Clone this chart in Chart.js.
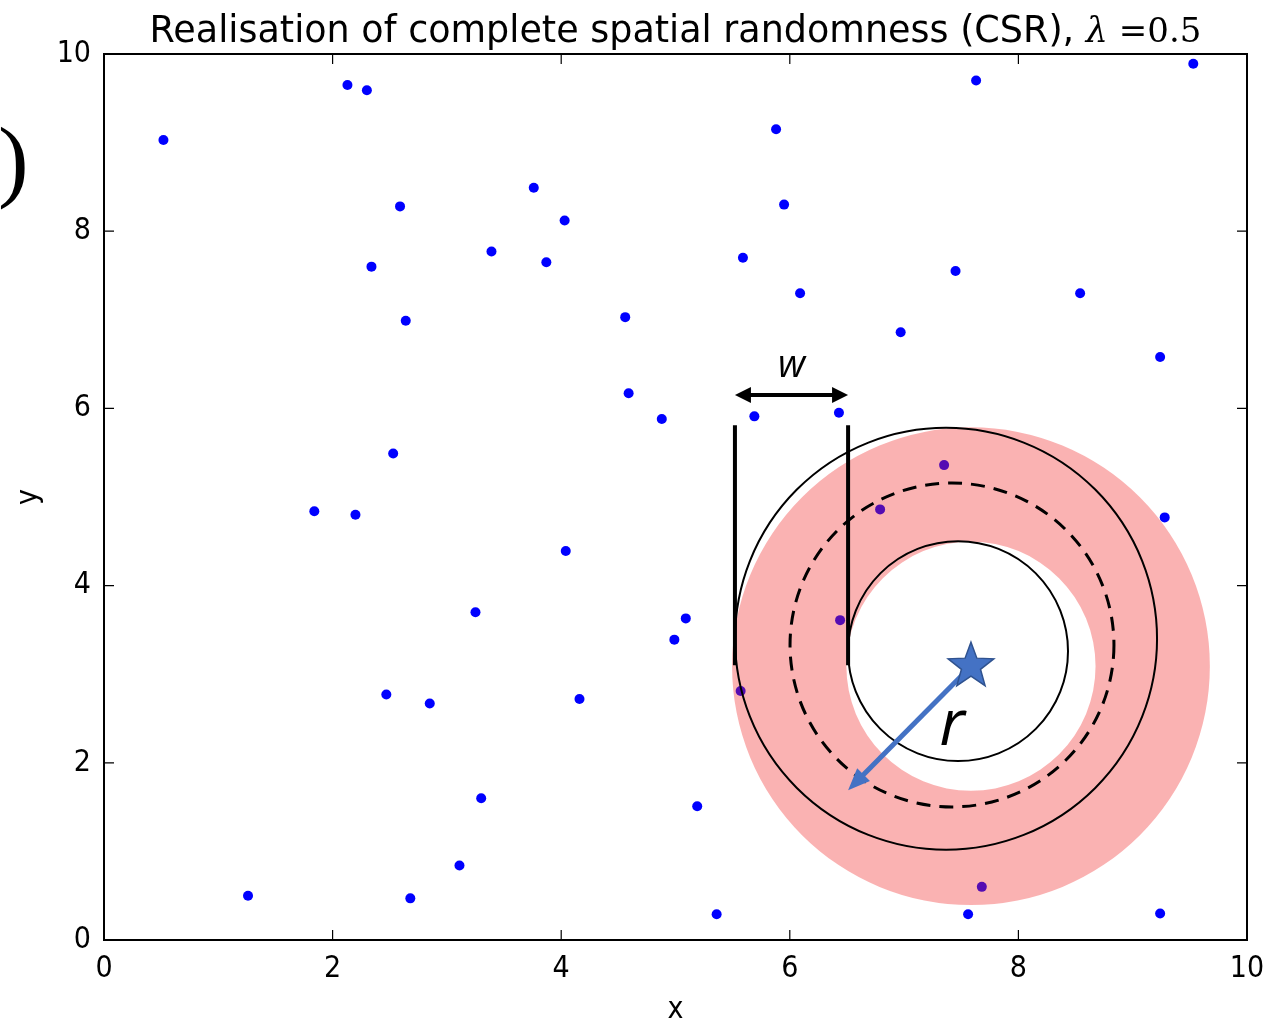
<!DOCTYPE html>
<html>
<head>
<meta charset="utf-8">
<script src="https://cdn.jsdelivr.net/npm/chart.js@4.4.1/dist/chart.umd.min.js"></script>
<style>
  html, body { margin: 0; padding: 0; background: #fff; }
  #wrap { width: 1268px; height: 1022px; }
</style>
</head>
<body>
<div id="wrap"><canvas id="csrChart" width="1268" height="1022"></canvas></div>
<script>
// points of the CSR realisation
const xs = [0.52, 2.13, 2.30, 2.59, 2.34, 2.64, 3.76, 4.03, 3.39, 3.87, 4.56, 4.59, 4.88,
            2.53, 1.84, 2.20, 4.04, 3.25, 5.09, 4.99, 2.47, 2.85, 4.16, 3.30, 5.19, 3.11,
            1.26, 2.68, 5.36, 5.88, 5.95, 5.59, 6.09, 5.69, 6.43, 7.63, 9.53, 7.45, 8.54,
            6.97, 9.24, 7.35, 6.79, 9.28, 6.44, 5.57, 7.68, 7.56, 9.24];
const ys = [9.03, 9.65, 9.59, 8.28, 7.60, 6.99, 8.49, 8.12, 7.77, 7.65, 7.03, 6.17, 5.88,
            5.49, 4.84, 4.80, 4.39, 3.70, 3.63, 3.39, 2.77, 2.67, 2.72, 1.60, 1.51, 0.84,
            0.50, 0.47, 0.29, 9.15, 8.30, 7.70, 7.30, 5.91, 5.95, 9.70, 9.89, 7.55, 7.30,
            6.86, 6.58, 5.36, 4.86, 4.77, 3.61, 2.81, 0.60, 0.29, 0.30];
const xTicks = [0, 2, 4, 6, 8, 10];
const yTicks = [0, 2, 4, 6, 8, 10];

// sketch drawn over the plot, in data units (radii in x units, circles stay round)
const star = { x: 7.585, y: 3.09 };
const ring = { x: 7.585, y: 3.09, outer: 2.09, inner: 1.09 };
const rings = [
  { x: 7.367, y: 3.40, r: 1.846, dash: false },
  { x: 7.419, y: 3.33, r: 1.417, dash: true },
  { x: 7.472, y: 3.26, r: 0.962, dash: false }
];
const bars = { x1: 5.52, x2: 6.51, yTop: 5.81, yBot: 3.10, yArrow: 6.15 };
const rEnd = { x: 6.51, y: 1.69 };

const SANS = "'DejaVu Sans Condensed', 'DejaVu Sans', sans-serif";

function arrowHead(ctx, x0, y0, x1, y1, len, half) {
  const a = Math.atan2(y1 - y0, x1 - x0);
  ctx.beginPath();
  ctx.moveTo(x1, y1);
  ctx.lineTo(x1 - len * Math.cos(a) + half * Math.sin(a), y1 - len * Math.sin(a) - half * Math.cos(a));
  ctx.lineTo(x1 - len * Math.cos(a) - half * Math.sin(a), y1 - len * Math.sin(a) + half * Math.cos(a));
  ctx.closePath();
  ctx.fill();
}

const sketch = {
  id: 'sketch',
  afterDatasetsDraw(chart) {
    const { ctx, scales: { x, y } } = chart;
    const px = v => x.getPixelForValue(v);
    const py = v => y.getPixelForValue(v);
    const pr = (cx, r) => px(cx + r) - px(cx);
    ctx.save();

    // pink band
    ctx.fillStyle = 'rgba(240, 35, 35, 0.35)';
    ctx.beginPath();
    ctx.arc(px(ring.x), py(ring.y), pr(ring.x, ring.outer), 0, Math.PI * 2);
    ctx.arc(px(ring.x), py(ring.y), pr(ring.x, ring.inner), 0, Math.PI * 2, true);
    ctx.fill('evenodd');

    // circles
    ctx.strokeStyle = '#000';
    rings.forEach(c => {
      ctx.lineWidth = c.dash ? 3 : 2;
      ctx.setLineDash(c.dash ? [14, 9] : []);
      ctx.beginPath();
      ctx.arc(px(c.x), py(c.y), pr(c.x, c.r), 0, Math.PI * 2);
      ctx.stroke();
    });
    ctx.setLineDash([]);

    // w bars + double arrow
    ctx.lineWidth = 4;
    [bars.x1, bars.x2].forEach(v => {
      ctx.beginPath();
      ctx.moveTo(px(v), py(bars.yTop));
      ctx.lineTo(px(v), py(bars.yBot));
      ctx.stroke();
    });
    const ay = py(bars.yArrow);
    ctx.beginPath();
    ctx.moveTo(px(bars.x1) + 10, ay);
    ctx.lineTo(px(bars.x2) - 10, ay);
    ctx.stroke();
    ctx.fillStyle = '#000';
    arrowHead(ctx, px(bars.x2), ay, px(bars.x1), ay, 16, 8);
    arrowHead(ctx, px(bars.x1), ay, px(bars.x2), ay, 16, 8);
    ctx.font = "italic 38px 'Open Sans', sans-serif";
    ctx.textAlign = 'center';
    ctx.textBaseline = 'alphabetic';
    ctx.fillText('w', (px(bars.x1) + px(bars.x2)) / 2, ay - 18);

    // r arrow
    const sx = px(star.x), sy = py(star.y);
    const ex = px(rEnd.x), ey = py(rEnd.y);
    ctx.strokeStyle = '#4472c4';
    ctx.fillStyle = '#4472c4';
    ctx.lineWidth = 5;
    const a = Math.atan2(ey - sy, ex - sx);
    ctx.beginPath();
    ctx.moveTo(sx, sy);
    ctx.lineTo(ex - 14 * Math.cos(a), ey - 14 * Math.sin(a));
    ctx.stroke();
    arrowHead(ctx, sx, sy, ex, ey, 22, 9);

    // star
    ctx.beginPath();
    for (let i = 0; i < 10; i++) {
      const rr = i % 2 === 0 ? 24 : 10;
      const t = -Math.PI / 2 + i * Math.PI / 5;
      const qx = sx + rr * Math.cos(t), qy = sy + rr * Math.sin(t);
      if (i === 0) ctx.moveTo(qx, qy); else ctx.lineTo(qx, qy);
    }
    ctx.closePath();
    ctx.fillStyle = '#4472c4';
    ctx.fill();
    ctx.strokeStyle = '#2f528f';
    ctx.lineWidth = 1.5;
    ctx.stroke();

    ctx.fillStyle = '#000';
    ctx.font = "italic 64px 'Open Sans', sans-serif";
    ctx.fillText('r', px(7.42), py(2.2));
    ctx.restore();
  },
  afterDraw(chart) {
    const { ctx, chartArea: ca, scales: { x, y } } = chart;
    ctx.save();
    // frame and inward ticks
    ctx.strokeStyle = '#000';
    ctx.lineWidth = 2;
    ctx.strokeRect(ca.left, ca.top, ca.right - ca.left, ca.bottom - ca.top);
    ctx.lineWidth = 1.2;
    ctx.beginPath();
    xTicks.forEach(v => {
      const p = x.getPixelForValue(v);
      ctx.moveTo(p, ca.bottom); ctx.lineTo(p, ca.bottom - 10);
      ctx.moveTo(p, ca.top); ctx.lineTo(p, ca.top + 10);
    });
    yTicks.forEach(v => {
      const p = y.getPixelForValue(v);
      ctx.moveTo(ca.left, p); ctx.lineTo(ca.left + 10, p);
      ctx.moveTo(ca.right, p); ctx.lineTo(ca.right - 10, p);
    });
    ctx.stroke();

    // title, with the math part in a serif face
    const t1 = 'Realisation of complete spatial randomness (CSR), ';
    const t2 = '\u03bb';
    const t3 = ' =0.5';
    const fSans = "36.5px 'DejaVu Sans', sans-serif";
    const fMathI = "italic 35px 'DejaVu Serif', serif";
    const fMath = "34px 'DejaVu Serif', serif";
    ctx.font = fSans; const w1 = ctx.measureText(t1).width;
    ctx.font = fMathI; const w2 = ctx.measureText(t2).width;
    ctx.font = fMath; const w3 = ctx.measureText(t3).width;
    let tx = (ca.left + ca.right) / 2 - (w1 + w2 + w3) / 2;
    const ty = 42;
    ctx.fillStyle = '#000';
    ctx.textAlign = 'left';
    ctx.textBaseline = 'alphabetic';
    ctx.font = fSans; ctx.fillText(t1, tx, ty); tx += w1;
    ctx.font = fMathI; ctx.fillText(t2, tx, ty); tx += w2;
    ctx.font = fMath; ctx.fillText(t3, tx, ty);

    // stray bracket at the left edge of the original figure
    ctx.font = "92px 'Liberation Serif', serif";
    ctx.fillText(')', -2, 190);
    ctx.restore();
  }
};

const ctx = document.getElementById('csrChart');
new Chart(ctx, {
  type: 'scatter',
  data: {
    datasets: [{
      data: xs.map((v, i) => ({ x: v, y: ys[i] })),
      pointRadius: 5,
      pointHoverRadius: 5,
      pointBackgroundColor: '#0000ff',
      pointBorderWidth: 0
    }]
  },
  options: {
    responsive: false,
    animation: false,
    events: [],
    layout: { padding: { left: 0, right: 21, top: 54, bottom: 0 } },
    plugins: { legend: { display: false }, tooltip: { enabled: false }, title: { display: false } },
    scales: {
      x: {
        type: 'linear', min: 0, max: 10,
        afterBuildTicks: s => { s.ticks = xTicks.map(v => ({ value: v })); },
        afterFit: s => { s.height = 82; s.paddingLeft = 0; s.paddingRight = 0; },
        grid: { display: false },
        border: { display: false },
        ticks: { color: '#000', padding: 3, maxRotation: 0, font: { size: 30, family: SANS } },
        title: { display: true, text: 'x', color: '#000', padding: 0, font: { size: 30, family: SANS, lineHeight: 0.8 } }
      },
      y: {
        type: 'linear', min: 0, max: 10,
        afterBuildTicks: s => { s.ticks = yTicks.map(v => ({ value: v })); },
        afterFit: s => { s.width = 104; s.paddingTop = 0; s.paddingBottom = 0; },
        grid: { display: false },
        border: { display: false },
        ticks: { color: '#000', padding: 5, font: { size: 30, family: SANS } },
        title: { display: true, text: 'y', color: '#000', padding: { top: 14, bottom: 0 }, font: { size: 30, family: SANS, lineHeight: 1 } }
      }
    }
  },
  plugins: [sketch]
});
</script>
</body>
</html>
